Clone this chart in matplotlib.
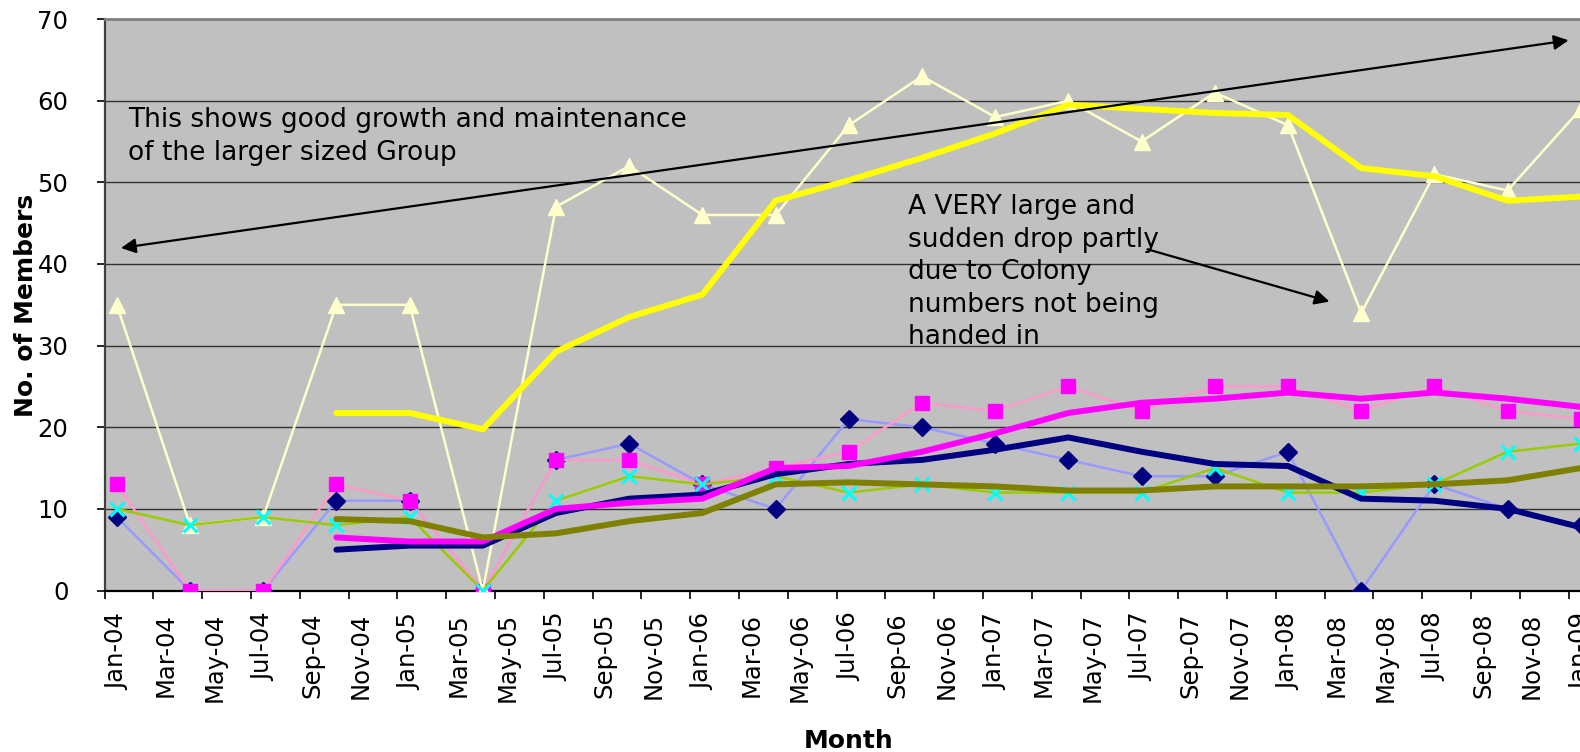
import matplotlib
matplotlib.use('Agg')
import matplotlib.pyplot as plt
import numpy as np
import pandas as pd

plt.rcParams['font.family'] = ['DejaVu Sans']

# ---------------- data ----------------
dates = ['2004-01', '2004-04', '2004-07', '2004-10', '2005-01', '2005-04', '2005-07',
         '2005-10', '2006-01', '2006-04', '2006-07', '2006-10', '2007-01', '2007-04',
         '2007-07', '2007-10', '2008-01', '2008-04', '2008-07', '2008-10', '2009-01']

diamond_vals = [9, 0, 0, 11, 11, 0, 16, 18, 13, 10, 21, 20, 18, 16, 14, 14, 17, 0, 13, 10, 8]
square_vals = [13, 0, 0, 13, 11, 0, 16, 16, 13, 15, 17, 23, 22, 25, 22, 25, 25, 22, 25, 22, 21]
triangle_vals = [35, 8, 9, 35, 35, 0, 47, 52, 46, 46, 57, 63, 58, 60, 55, 61, 57, 34, 51, 49, 59]
cross_vals = [10, 8, 9, 8, 9, 0, 11, 14, 13, 14, 12, 13, 12, 12, 12, 15, 12, 12, 13, 17, 18]

trend_dates = dates[3:]
diamond_trend = [5, 5.5, 5.5, 9.5, 11.25, 11.75, 14.25, 15.5, 16, 17.25, 18.75, 17, 15.5,
                 15.25, 11.25, 11, 10, 7.75]
square_trend = [6.5, 6, 6, 10, 10.75, 11.25, 15, 15.25, 17, 19.25, 21.75, 23, 23.5, 24.25,
                23.5, 24.25, 23.5, 22.5]
triangle_trend = [21.75, 21.75, 19.75, 29.25, 33.5, 36.25, 47.75, 50.25, 53, 56, 59.5, 59,
                  58.5, 58.25, 51.75, 50.75, 47.75, 48.25]
cross_trend = [8.75, 8.5, 6.5, 7, 8.5, 9.5, 13, 13.25, 13, 12.75, 12.25, 12.25, 12.75,
               12.75, 12.75, 13, 13.5, 15]

tick_labels = list(pd.date_range('2004-01-01', '2009-01-01', freq='2MS').strftime('%b-%y'))

y_ticks = [0, 10, 20, 30, 40, 50, 60, 70]


def month_pos(ds):
    d = pd.to_datetime(ds)
    return np.array((d.year - 2004) * 12 + (d.month - 1)) + 0.5


x = month_pos(dates)
xt = month_pos(trend_dates)

# ---------------- figure ----------------
W, H = 1580, 752
fig = plt.figure(figsize=(W / 100, H / 100), dpi=100)
fig.patch.set_facecolor('white')

left_px, right_px, top_px, bot_px = 104.6, 1593, 19.1, 590.5
ax = fig.add_axes([left_px / W, 1 - bot_px / H, (right_px - left_px) / W, (bot_px - top_px) / H])
ax.set_facecolor('#C0C0C0')
ax.set_xlim(0, 61)
ax.set_ylim(0, 70)

for yv in y_ticks[1:-1]:
    ax.axhline(yv, color='#303030', lw=1.0, zorder=1)

# series
ax.plot(x, diamond_vals, color='#9999FF', lw=1.8, marker='D', markersize=9.5,
        markerfacecolor='#000080', markeredgecolor='#000080', zorder=3)
ax.plot(x, square_vals, color='#FF99CC', lw=1.8, marker='s', markersize=10.5,
        markerfacecolor='#FF00FF', markeredgecolor='#FF00FF', zorder=3)
ax.plot(x, triangle_vals, color='#FFFFCC', lw=1.8, marker='^', markersize=11,
        markerfacecolor='#FFFFCC', markeredgecolor='#FFFFCC', zorder=3)
ax.plot(x, cross_vals, color='#99CC00', lw=1.8, marker='x', markersize=10, markeredgewidth=2.2,
        markerfacecolor='#00FFFF', markeredgecolor='#00FFFF', zorder=3)

# moving-average trend lines
ax.plot(xt, diamond_trend, color='#000080', lw=4.3, zorder=4, solid_capstyle='round')
ax.plot(xt, square_trend, color='#FF00FF', lw=4.3, zorder=4, solid_capstyle='round')
ax.plot(xt, triangle_trend, color='#FFFF00', lw=4.3, zorder=4, solid_capstyle='round')
ax.plot(xt, cross_trend, color='#808000', lw=4.3, zorder=4, solid_capstyle='round')

# spines
ax.spines['right'].set_visible(False)
ax.spines['top'].set_color('#808080')
ax.spines['top'].set_linewidth(2)
ax.spines['left'].set_color('#404040')
ax.spines['left'].set_linewidth(1.6)
ax.spines['bottom'].set_color('#000000')
ax.spines['bottom'].set_linewidth(1.6)

# ticks
ax.set_yticks(y_ticks)
ax.set_yticklabels([str(v) for v in y_ticks])
ax.tick_params(axis='y', length=6, width=1.2, direction='out', pad=20, labelsize=17.5, colors='black')

ax.set_xticks(np.arange(0, 61, 2))
ax.set_xticklabels([])
ax.tick_params(axis='x', which='major', length=6, width=1.2, direction='out')
ax.set_xticks(np.arange(0.5, 61, 2), minor=True)
ax.set_xticklabels(tick_labels, minor=True, rotation=90)
ax.tick_params(axis='x', which='minor', length=0, pad=16, labelsize=17.5)

# axis titles
fig.text(26 / W, 1 - 305 / H, 'No. of Members', rotation=90, ha='center', va='center',
         fontsize=18, fontweight='bold')
fig.text(849 / W, 1 - 748 / H, 'Month', ha='center', va='baseline',
         fontsize=18, fontweight='bold')

# annotations
fig.text(128 / W, 1 - 107 / H, 'This shows good growth and maintenance\nof the larger sized Group',
         ha='left', va='top', fontsize=19, linespacing=1.33)
fig.text(908 / W, 1 - 194 / H,
         'A VERY large and\nsudden drop partly\ndue to Colony\nnumbers not being\nhanded in',
         ha='left', va='top', fontsize=19, linespacing=1.33)

ax.annotate('', xy=(0.67, 41.96), xytext=(60.0, 67.4),
            arrowprops=dict(arrowstyle='<|-|>', color='black', lw=1.6, mutation_scale=22,
                            shrinkA=0, shrinkB=0), zorder=6)
ax.annotate('', xy=(50.2, 35.4), xytext=(42.74, 41.8),
            arrowprops=dict(arrowstyle='-|>', color='black', lw=1.6, mutation_scale=22,
                            shrinkA=0, shrinkB=0), zorder=6)

fig.savefig('out.png', dpi=100)
